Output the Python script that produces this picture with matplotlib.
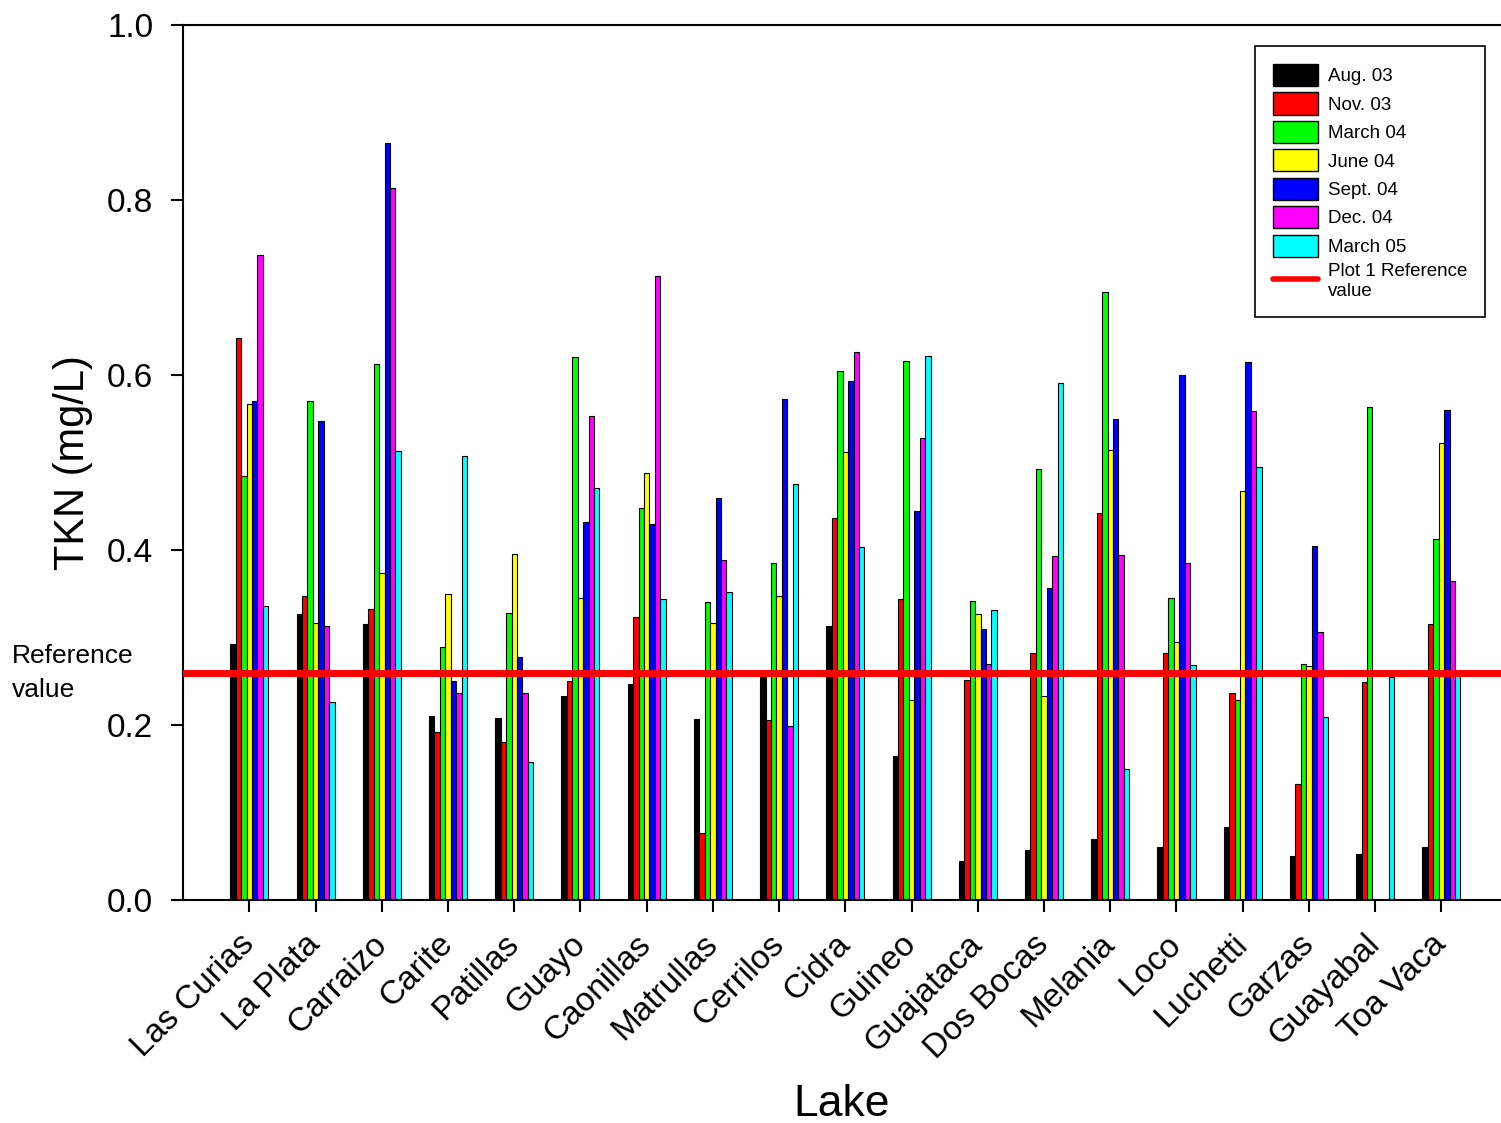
import numpy as np
import matplotlib
matplotlib.use("Agg")
import matplotlib.pyplot as plt
from matplotlib.patches import Patch
from matplotlib.lines import Line2D

plt.rcParams['font.family'] = ['Liberation Sans', 'DejaVu Sans']

lakes = ["Las Curias", "La Plata", "Carraizo", "Carite", "Patillas", "Guayo",
         "Caonillas", "Matrullas", "Cerrilos", "Cidra", "Guineo", "Guajataca",
         "Dos Bocas", "Melania", "Loco", "Luchetti", "Garzas", "Guayabal", "Toa Vaca"]

seasons = ["Aug. 03", "Nov. 03", "March 04", "June 04", "Sept. 04", "Dec. 04", "March 05"]
colors = ["#000000", "#ff0000", "#00ff00", "#ffff00", "#0000ff", "#ff00ff", "#00ffff"]

nan = np.nan
aug03 = [0.293, 0.327, 0.315, 0.210, 0.208, 0.233, 0.247, 0.207, 0.256, 0.313,
         0.165, 0.044, 0.057, 0.070, 0.060, 0.083, 0.050, 0.053, 0.060]
nov03 = [0.642, 0.347, 0.333, 0.192, 0.181, 0.250, 0.323, 0.077, 0.206, 0.437,
         0.344, 0.251, 0.282, 0.442, 0.282, 0.237, 0.133, 0.249, 0.315]
mar04 = [0.485, 0.570, 0.613, 0.289, 0.328, 0.621, 0.448, 0.341, 0.385, 0.605,
         0.616, 0.342, 0.493, 0.695, 0.345, 0.229, 0.270, 0.564, 0.413]
jun04 = [0.567, 0.317, 0.374, 0.350, 0.395, 0.345, 0.488, 0.317, 0.347, 0.512,
         0.229, 0.327, 0.233, 0.514, 0.295, 0.467, 0.267, nan, 0.522]
sep04 = [0.570, 0.547, 0.865, 0.250, 0.278, 0.432, 0.430, 0.460, 0.573, 0.593,
         0.445, 0.310, 0.357, 0.550, 0.600, 0.615, 0.405, nan, 0.560]
dec04 = [0.737, 0.313, 0.814, 0.236, 0.236, 0.553, 0.713, 0.388, 0.199, 0.626,
         0.528, 0.270, 0.393, 0.394, 0.385, 0.559, 0.306, nan, 0.365]
mar05 = [0.336, 0.226, 0.513, 0.507, 0.158, 0.471, 0.344, 0.352, 0.476, 0.404,
         0.622, 0.331, 0.591, 0.150, 0.268, 0.495, 0.209, 0.255, 0.256]
series = [aug03, nov03, mar04, jun04, sep04, dec04, mar05]

ref_value = 0.259

fig = plt.figure(figsize=(15.01, 11.23), dpi=100)
ax = fig.add_axes([0.122, 0.1986, 0.878, 0.7791])

x = np.arange(1, len(lakes) + 1)
w = 0.082
for i, (vals, c) in enumerate(zip(series, colors)):
    ax.bar(x + (i - 3) * w, vals, width=w, color=c, edgecolor='black', linewidth=0.8, zorder=2)

ax.axhline(ref_value, color='red', linewidth=5, solid_capstyle='round', zorder=3)

ax.set_xlim(0, 19.9)
ax.set_ylim(0, 1.0)
ax.set_yticks(np.arange(0, 1.01, 0.2))
ax.set_yticklabels([f"{v:.1f}" for v in np.arange(0, 1.01, 0.2)])
ax.set_xticks(x)
ax.set_xticklabels(lakes, rotation=45, ha='right', va='center', rotation_mode='anchor')

ax.tick_params(axis='both', labelsize=24, width=1.5, length=8.5, direction='out')
ax.tick_params(axis='y', pad=13)
ax.tick_params(axis='x', pad=20)
for s in ['left', 'bottom', 'top']:
    ax.spines[s].set_linewidth(1.5)
ax.spines['right'].set_visible(False)

ax.set_xlabel("Lake", fontsize=32, labelpad=14)
ax.set_ylabel("TKN (mg/L)", fontsize=30, labelpad=10)

fig.text(12 / 1501, 1 - 673 / 1123, "Reference\nvalue", fontsize=19, ha='left', va='center',
         linespacing=1.5)

handles = [Patch(facecolor=c, edgecolor='black', linewidth=1) for c in colors]
handles.append(Line2D([0], [0], color='red', linewidth=4, solid_capstyle='round'))
labels = seasons + ["Plot 1 Reference\nvalue"]
leg = ax.legend(handles, labels, loc='upper right', bbox_to_anchor=(0.988, 0.976),
                borderaxespad=0, fontsize=13.5, handlelength=2.4, handleheight=1.45,
                labelspacing=0.33, handletextpad=0.55, borderpad=0.95,
                fancybox=False, frameon=True)
leg.get_frame().set_edgecolor('black')
leg.get_frame().set_linewidth(1.2)
leg.get_frame().set_alpha(1)

fig.savefig("out.png", dpi=100)
